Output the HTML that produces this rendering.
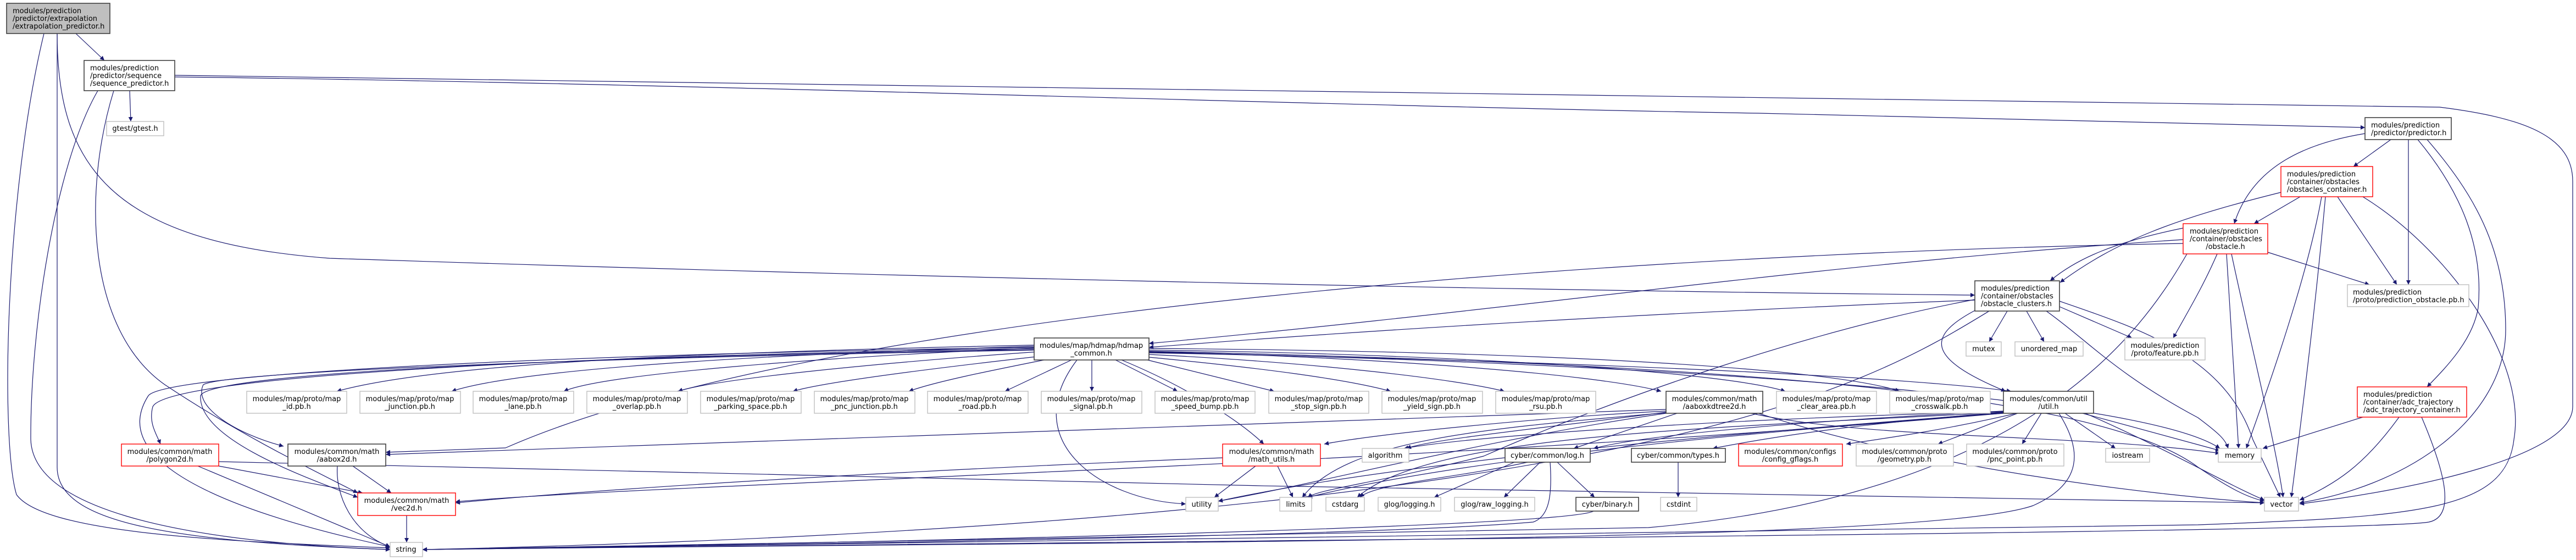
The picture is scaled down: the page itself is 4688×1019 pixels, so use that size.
<!DOCTYPE html>
<html><head><meta charset="utf-8"><style>
html,body{margin:0;padding:0;background:#fff}
svg{display:block}
text{font-family:"DejaVu Sans","Liberation Sans",sans-serif;font-size:13px;fill:#000}
.c{text-anchor:middle}
.e path{fill:none;stroke:#191970;stroke-width:1.2}
.k{fill:#fff;stroke:#404040;stroke-width:1.6}
.r{fill:#fff;stroke:#ff0000;stroke-width:1.4}
.g{fill:#fff;stroke:#bfbfbf;stroke-width:1.4}
</style></head><body>
<svg width="4688" height="1019" viewBox="0 0 4688 1019" xmlns="http://www.w3.org/2000/svg">
<defs><marker id="a" viewBox="0 0 10 10" refX="10" refY="5" markerWidth="11" markerHeight="8" markerUnits="userSpaceOnUse" orient="auto"><path d="M0,0 L10,5 L0,10 z" fill="#191970"/></marker></defs>
<g class="e" marker-end="url(#a)">
<path d="M138,61 L190,110" marker-end="url(#a)"/>
<path d="M80,61 C10,350 0,800 30,900 C80,970 400,985 710,997" marker-end="url(#a)"/>
<path d="M104,61 L104,850 C104,950 300,985 710,1000" marker-end="url(#a)"/>
<path d="M104,61 C104,300 200,440 600,470 C1500,500 2600,527 3594,537" marker-end="url(#a)"/>
<path d="M236,165 L238,221" marker-end="url(#a)"/>
<path d="M318,137 C2000,150 3500,170 4440,195 C4600,215 4682,250 4682,330 L4682,740 C4682,830 4400,890 4185,917" marker-end="url(#a)"/>
<path d="M318,140 C1200,150 2500,195 3200,206 C3800,220 4100,228 4304,232" marker-end="url(#a)"/>
<path d="M178,165 C100,300 55,600 56,800 C60,920 300,985 710,1000" marker-end="url(#a)"/>
<path d="M207,165 C150,350 158,600 300,700 C450,800 600,870 651,897" marker-end="url(#a)"/>
<path d="M4351,254 L4283,303" marker-end="url(#a)"/>
<path d="M4304,243 C4200,260 4100,300 4066,407" marker-end="url(#a)"/>
<path d="M4383,254 L4383,518" marker-end="url(#a)"/>
<path d="M4400,254 C4480,350 4520,450 4510,560 C4500,620 4450,670 4417,704" marker-end="url(#a)"/>
<path d="M4417,254 C4500,350 4560,450 4560,600 C4560,750 4400,880 4185,915" marker-end="url(#a)"/>
<path d="M4186,358 L4102,407" marker-end="url(#a)"/>
<path d="M4151,350 C3950,400 3850,440 3749,514" marker-end="url(#a)"/>
<path d="M4254,358 L4362,518" marker-end="url(#a)"/>
<path d="M4225,358 C4200,500 4130,700 4088,816" marker-end="url(#a)"/>
<path d="M4232,358 C4215,550 4190,750 4170,905" marker-end="url(#a)"/>
<path d="M4300,358 C4450,450 4600,650 4575,800 C4560,930 4400,940 4000,955 L769,1000" marker-end="url(#a)"/>
<path d="M4127,459 L4312,518" marker-end="url(#a)"/>
<path d="M3973,415 C3850,440 3780,470 3731,511" marker-end="url(#a)"/>
<path d="M4035,462 C4010,520 3980,570 3955,615" marker-end="url(#a)"/>
<path d="M4052,462 L4074,816" marker-end="url(#a)"/>
<path d="M4061,462 C4090,600 4140,800 4155,905" marker-end="url(#a)"/>
<path d="M3973,436 C3300,480 2800,560 2091,625" marker-end="url(#a)"/>
<path d="M3594,546 C3000,570 2500,600 2091,632" marker-end="url(#a)"/>
<path d="M3973,443 C3000,460 1500,560 920,815 L702,823" marker-end="url(#a)"/>
<path d="M3980,462 C3900,600 3700,900 3000,960 L769,1000" marker-end="url(#a)"/>
<path d="M1882,628 C1300,640 800,660 613,712" marker-end="url(#a)"/>
<path d="M1882,630 C1400,645 950,670 822,712" marker-end="url(#a)"/>
<path d="M1882,633 C1500,650 1100,680 1026,712" marker-end="url(#a)"/>
<path d="M1890,640 C1600,660 1300,690 1234,712" marker-end="url(#a)"/>
<path d="M1895,648 C1700,670 1500,695 1443,712" marker-end="url(#a)"/>
<path d="M1900,655 C1800,675 1700,695 1654,712" marker-end="url(#a)"/>
<path d="M1950,655 L1829,712" marker-end="url(#a)"/>
<path d="M1987,655 L1987,712" marker-end="url(#a)"/>
<path d="M2030,655 L2143,712" marker-end="url(#a)"/>
<path d="M2088,655 L2319,712" marker-end="url(#a)"/>
<path d="M2091,650 C2300,670 2450,690 2531,712" marker-end="url(#a)"/>
<path d="M2091,645 C2400,660 2650,690 2738,712" marker-end="url(#a)"/>
<path d="M2091,640 C2500,650 2900,680 3023,712" marker-end="url(#a)"/>
<path d="M2091,637 C2700,645 3150,680 3249,712" marker-end="url(#a)"/>
<path d="M2091,634 C2900,640 3350,675 3457,712" marker-end="url(#a)"/>
<path d="M1882,634 C900,650 300,690 278,740 C270,770 285,790 292,808" marker-end="url(#a)"/>
<path d="M1882,637 C900,655 400,680 370,700 C350,740 430,790 516,812" marker-end="url(#a)"/>
<path d="M1882,636 C1000,650 380,680 365,720 C360,800 560,870 651,905" marker-end="url(#a)"/>
<path d="M1882,632 C1000,645 300,680 270,720 C180,860 500,950 710,995" marker-end="url(#a)"/>
<path d="M2041,655 C2150,700 2250,760 2300,808" marker-end="url(#a)"/>
<path d="M2091,642 C3000,660 3500,690 3660,712" marker-end="url(#a)"/>
<path d="M2091,639 C3000,660 3800,700 4000,850 C4060,890 4090,905 4121,912" marker-end="url(#a)"/>
<path d="M2091,641 C3000,660 3900,720 4040,816" marker-end="url(#a)"/>
<path d="M1960,655 C1850,800 2000,910 2158,917" marker-end="url(#a)"/>
<path d="M3032,745 C2000,780 1000,810 702,827" marker-end="url(#a)"/>
<path d="M3052,752 L2864,816" marker-end="url(#a)"/>
<path d="M3032,748 C2800,760 2500,790 2410,808" marker-end="url(#a)"/>
<path d="M3032,750 C2800,780 2600,800 2560,816" marker-end="url(#a)"/>
<path d="M3032,751 C2700,780 2450,800 2370,905" marker-end="url(#a)"/>
<path d="M3187,752 C3400,800 3800,790 4040,825" marker-end="url(#a)"/>
<path d="M3200,752 C3500,850 3900,900 4121,915" marker-end="url(#a)"/>
<path d="M3032,752 C2700,800 2400,880 2217,912" marker-end="url(#a)"/>
<path d="M3672,752 L3527,808" marker-end="url(#a)"/>
<path d="M3715,752 L3680,808" marker-end="url(#a)"/>
<path d="M3758,752 L3850,816" marker-end="url(#a)"/>
<path d="M3790,752 L4040,820" marker-end="url(#a)"/>
<path d="M3795,752 C3950,820 4050,880 4121,910" marker-end="url(#a)"/>
<path d="M3747,752 C3790,820 3790,880 3700,920 C3500,990 2000,985 769,1000" marker-end="url(#a)"/>
<path d="M3670,752 C3550,780 3450,795 3360,808" marker-end="url(#a)"/>
<path d="M3648,750 C3400,770 3250,790 3117,816" marker-end="url(#a)"/>
<path d="M3646,748 C3300,765 3000,790 2900,816" marker-end="url(#a)"/>
<path d="M3646,750 C3100,780 2600,790 2470,905" marker-end="url(#a)"/>
<path d="M3646,751 C3000,800 2500,850 2217,912" marker-end="url(#a)"/>
<path d="M3646,752 C3000,800 2600,850 2380,905" marker-end="url(#a)"/>
<path d="M3646,752 C2500,850 1200,880 829,913" marker-end="url(#a)"/>
<path d="M3646,749 C3200,760 2700,790 2555,816" marker-end="url(#a)"/>
<path d="M3653,566 L3620,622" marker-end="url(#a)"/>
<path d="M3688,566 L3720,622" marker-end="url(#a)"/>
<path d="M3748,558 L3880,615" marker-end="url(#a)"/>
<path d="M3594,565 C3510,610 3500,650 3650,712" marker-end="url(#a)"/>
<path d="M3724,566 C3800,620 3850,680 4000,760 C4040,790 4050,800 4055,816" marker-end="url(#a)"/>
<path d="M3748,548 C3900,600 4050,650 4100,800 L4150,905" marker-end="url(#a)"/>
<path d="M3620,566 C3400,700 3000,950 769,1000" marker-end="url(#a)"/>
<path d="M3594,545 C3300,600 2950,720 2700,830 C2500,880 2400,890 2380,905" marker-end="url(#a)"/>
<path d="M2285,848 L2210,905" marker-end="url(#a)"/>
<path d="M2325,848 L2353,905" marker-end="url(#a)"/>
<path d="M2225,833 C1800,850 1200,880 829,915" marker-end="url(#a)"/>
<path d="M2756,841 L2610,905" marker-end="url(#a)"/>
<path d="M2803,841 L2737,905" marker-end="url(#a)"/>
<path d="M2834,841 L2902,905" marker-end="url(#a)"/>
<path d="M2780,841 C2650,870 2500,880 2475,905" marker-end="url(#a)"/>
<path d="M2821,841 C2825,900 2820,940 2790,950 C2500,975 1500,990 769,1000" marker-end="url(#a)"/>
<path d="M3054,841 L3054,905" marker-end="url(#a)"/>
<path d="M2900,930 C2850,960 1500,990 769,1000" marker-end="url(#a)"/>
<path d="M4300,759 L4118,816" marker-end="url(#a)"/>
<path d="M4366,759 C4300,850 4250,880 4185,910" marker-end="url(#a)"/>
<path d="M4407,759 C4450,860 4470,940 4420,950 C4300,970 2000,985 769,1000" marker-end="url(#a)"/>
<path d="M398,848 L660,897" marker-end="url(#a)"/>
<path d="M360,848 L710,995" marker-end="url(#a)"/>
<path d="M398,840 C1500,870 3000,900 4121,915" marker-end="url(#a)"/>
<path d="M642,848 L712,897" marker-end="url(#a)"/>
<path d="M614,848 C610,900 640,970 710,995" marker-end="url(#a)"/>
<path d="M740,938 L740,987" marker-end="url(#a)"/>
</g>

<!-- nodes -->
<rect x="12" y="6" width="188" height="55" fill="#bfbfbf" stroke="#404040" stroke-width="1.6"/>
<text x="23" y="24">modules/prediction</text><text x="23" y="38">/predictor/extrapolation</text><text x="23" y="52">/extrapolation_predictor.h</text>
<rect class="k" x="153" y="110" width="165" height="55"/>
<text x="164" y="128">modules/prediction</text><text x="164" y="142">/predictor/sequence</text><text x="164" y="156">/sequence_predictor.h</text>
<rect class="g" x="194" y="221" width="104" height="26"/><text class="c" x="246" y="238">gtest/gtest.h</text>
<rect class="k" x="4304" y="214" width="157" height="40"/>
<text x="4315" y="232">modules/prediction</text><text x="4315" y="246">/predictor/predictor.h</text>
<rect class="r" x="4151" y="303" width="167" height="55"/>
<text x="4162" y="321">modules/prediction</text><text x="4162" y="335">/container/obstacles</text><text x="4162" y="349">/obstacles_container.h</text>
<rect class="r" x="3973" y="407" width="154" height="55"/>
<text x="3985" y="425">modules/prediction</text><text x="3985" y="439">/container/obstacles</text><text class="c" x="4050" y="453">/obstacle.h</text>
<rect class="k" x="3594" y="511" width="154" height="55"/>
<text x="3605" y="529">modules/prediction</text><text x="3605" y="543">/container/obstacles</text><text x="3605" y="557">/obstacle_clusters.h</text>
<rect class="g" x="4272" y="518" width="221" height="40"/>
<text x="4282" y="536">modules/prediction</text><text x="4282" y="550">/proto/prediction_obstacle.pb.h</text>
<rect class="k" x="1882" y="615" width="209" height="40"/>
<text class="c" x="1986" y="633">modules/map/hdmap/hdmap</text><text class="c" x="1986" y="647">_common.h</text>
<rect class="g" x="3578" y="622" width="64" height="26"/><text class="c" x="3610" y="639">mutex</text>
<rect class="g" x="3667" y="622" width="124" height="26"/><text class="c" x="3729" y="639">unordered_map</text>
<rect class="g" x="3867" y="615" width="146" height="40"/>
<text class="c" x="3940" y="633">modules/prediction</text><text class="c" x="3940" y="647">/proto/feature.pb.h</text>

<g>
<rect class="g" x="449" y="712" width="182" height="40"/><text class="c" x="540" y="730">modules/map/proto/map</text><text class="c" x="540" y="744">_id.pb.h</text>
<rect class="g" x="655" y="712" width="183" height="40"/><text class="c" x="746" y="730">modules/map/proto/map</text><text class="c" x="746" y="744">_junction.pb.h</text>
<rect class="g" x="861" y="712" width="183" height="40"/><text class="c" x="952" y="730">modules/map/proto/map</text><text class="c" x="952" y="744">_lane.pb.h</text>
<rect class="g" x="1068" y="712" width="183" height="40"/><text class="c" x="1159" y="730">modules/map/proto/map</text><text class="c" x="1159" y="744">_overlap.pb.h</text>
<rect class="g" x="1275" y="712" width="183" height="40"/><text class="c" x="1366" y="730">modules/map/proto/map</text><text class="c" x="1366" y="744">_parking_space.pb.h</text>
<rect class="g" x="1482" y="712" width="183" height="40"/><text class="c" x="1573" y="730">modules/map/proto/map</text><text class="c" x="1573" y="744">_pnc_junction.pb.h</text>
<rect class="g" x="1688" y="712" width="183" height="40"/><text class="c" x="1779" y="730">modules/map/proto/map</text><text class="c" x="1779" y="744">_road.pb.h</text>
<rect class="g" x="1895" y="712" width="183" height="40"/><text class="c" x="1986" y="730">modules/map/proto/map</text><text class="c" x="1986" y="744">_signal.pb.h</text>
<rect class="g" x="2102" y="712" width="182" height="40"/><text class="c" x="2193" y="730">modules/map/proto/map</text><text class="c" x="2193" y="744">_speed_bump.pb.h</text>
<rect class="g" x="2309" y="712" width="182" height="40"/><text class="c" x="2400" y="730">modules/map/proto/map</text><text class="c" x="2400" y="744">_stop_sign.pb.h</text>
<rect class="g" x="2515" y="712" width="183" height="40"/><text class="c" x="2606" y="730">modules/map/proto/map</text><text class="c" x="2606" y="744">_yield_sign.pb.h</text>
<rect class="g" x="2722" y="712" width="182" height="40"/><text class="c" x="2813" y="730">modules/map/proto/map</text><text class="c" x="2813" y="744">_rsu.pb.h</text>
<rect class="k" x="3032" y="712" width="176" height="40"/><text class="c" x="3120" y="730">modules/common/math</text><text class="c" x="3120" y="744">/aaboxkdtree2d.h</text>
<rect class="g" x="3233" y="712" width="182" height="40"/><text class="c" x="3324" y="730">modules/map/proto/map</text><text class="c" x="3324" y="744">_clear_area.pb.h</text>
<rect class="g" x="3439" y="712" width="183" height="40"/><text class="c" x="3530" y="730">modules/map/proto/map</text><text class="c" x="3530" y="744">_crosswalk.pb.h</text>
<rect class="k" x="3646" y="712" width="164" height="40"/><text class="c" x="3728" y="730">modules/common/util</text><text class="c" x="3728" y="744">/util.h</text>
</g>
<rect class="r" x="4290" y="704" width="199" height="55"/>
<text x="4301" y="722">modules/prediction</text><text x="4301" y="736">/container/adc_trajectory</text><text x="4301" y="750">/adc_trajectory_container.h</text>

<rect class="r" x="221" y="808" width="177" height="40"/><text class="c" x="309" y="826">modules/common/math</text><text class="c" x="309" y="840">/polygon2d.h</text>
<rect class="k" x="524" y="808" width="178" height="40"/><text class="c" x="613" y="826">modules/common/math</text><text class="c" x="613" y="840">/aabox2d.h</text>
<rect class="r" x="2225" y="808" width="178" height="40"/><text class="c" x="2314" y="826">modules/common/math</text><text class="c" x="2314" y="840">/math_utils.h</text>
<rect class="r" x="3164" y="808" width="189" height="40"/><text class="c" x="3258" y="826">modules/common/configs</text><text class="c" x="3258" y="840">/config_gflags.h</text>
<rect class="g" x="3378" y="808" width="177" height="40"/><text class="c" x="3466" y="826">modules/common/proto</text><text class="c" x="3466" y="840">/geometry.pb.h</text>
<rect class="g" x="3579" y="808" width="177" height="40"/><text class="c" x="3667" y="826">modules/common/proto</text><text class="c" x="3667" y="840">/pnc_point.pb.h</text>
<rect class="k" x="2739" y="816" width="155" height="25"/><text class="c" x="2816" y="833">cyber/common/log.h</text>
<rect class="k" x="2969" y="816" width="171" height="25"/><text class="c" x="3054" y="833">cyber/common/types.h</text>
<rect class="g" x="2479" y="816" width="85" height="25"/><text class="c" x="2521" y="833">algorithm</text>
<rect class="g" x="3832" y="816" width="80" height="25"/><text class="c" x="3872" y="833">iostream</text>
<rect class="g" x="4037" y="816" width="78" height="25"/><text class="c" x="4076" y="833">memory</text>

<rect class="r" x="651" y="897" width="178" height="41"/><text class="c" x="740" y="915">modules/common/math</text><text class="c" x="740" y="929">/vec2d.h</text>
<rect class="g" x="2158" y="905" width="59" height="25"/><text class="c" x="2187" y="922">utility</text>
<rect class="g" x="2329" y="905" width="58" height="25"/><text class="c" x="2358" y="922">limits</text>
<rect class="g" x="2413" y="905" width="70" height="25"/><text class="c" x="2448" y="922">cstdarg</text>
<rect class="g" x="2508" y="905" width="114" height="25"/><text class="c" x="2565" y="922">glog/logging.h</text>
<rect class="g" x="2647" y="905" width="146" height="25"/><text class="c" x="2720" y="922">glog/raw_logging.h</text>
<rect class="k" x="2868" y="905" width="114" height="25"/><text class="c" x="2925" y="922">cyber/binary.h</text>
<rect class="g" x="3022" y="905" width="66" height="25"/><text class="c" x="3055" y="922">cstdint</text>
<rect class="g" x="4121" y="905" width="62" height="25"/><text class="c" x="4152" y="922">vector</text>
<rect class="g" x="710" y="987" width="59" height="26"/><text class="c" x="739" y="1004">string</text>
</svg>
</body></html>
